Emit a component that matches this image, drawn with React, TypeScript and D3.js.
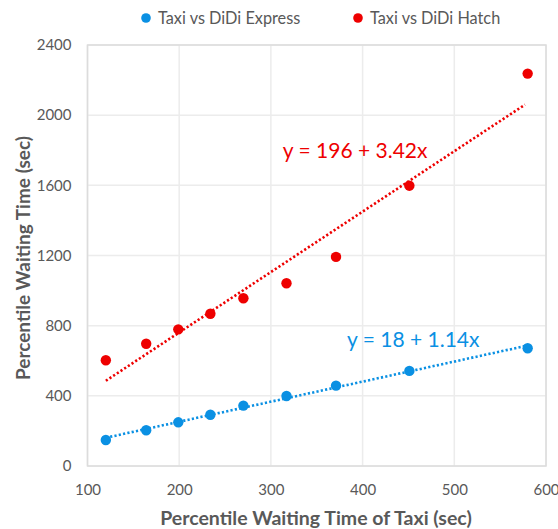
import React, { useEffect, useRef } from 'react';
import * as d3 from 'd3';

// Values
const taxiWait = [120, 164, 199, 234, 270, 317, 371, 451, 580];
const expressWait = [148, 204, 249, 292, 344, 399, 458, 542, 671];
const hatchWait = [603, 697, 779, 868, 956, 1042, 1192, 1598, 2237];
const xTicks = [100, 200, 300, 400, 500, 600];
const yTicks = [0, 400, 800, 1200, 1600, 2000, 2400];
const seriesNames = ['Taxi vs DiDi Express', 'Taxi vs DiDi Hatch'];
const equations = ['y = 18 + 1.14x', 'y = 196 + 3.42x'];
// where each equation label starts, in data units
const equationAt = [
  [383, 678],
  [313, 1756],
];

const BLUE = '#0a90e3';
const RED = '#ee0000';
const GREY = '#595959';
const FONT = 'Lato, "Open Sans", sans-serif';

// ordinary least squares fit
const fit = (xs: number[], ys: number[]) => {
  const mx = d3.mean(xs) as number;
  const my = d3.mean(ys) as number;
  let sxy = 0;
  let sxx = 0;
  xs.forEach((x, i) => {
    sxy += (x - mx) * (ys[i] - my);
    sxx += (x - mx) * (x - mx);
  });
  const slope = sxy / sxx;
  return { slope, intercept: my - slope * mx };
};

const App = () => {
  const ref = useRef<SVGSVGElement>(null);

  useEffect(() => {
    const svg = d3.select(ref.current);
    svg.selectAll('*').remove();

    const left = 87.5;
    const right = 546;
    const top = 45;
    const bottom = 466;

    const x = d3.scaleLinear().domain([100, 600]).range([left, right]);
    const y = d3.scaleLinear().domain([0, 2400]).range([bottom, top]);

    // Gridlines
    svg.append('g')
      .selectAll('line')
      .data(xTicks)
      .enter()
      .append('line')
      .attr('x1', d => x(d))
      .attr('x2', d => x(d))
      .attr('y1', top)
      .attr('y2', bottom)
      .attr('stroke', '#ececec')
      .attr('stroke-width', 1.5);

    svg.append('g')
      .selectAll('line')
      .data(yTicks)
      .enter()
      .append('line')
      .attr('x1', left)
      .attr('x2', right)
      .attr('y1', d => y(d))
      .attr('y2', d => y(d))
      .attr('stroke', '#ececec')
      .attr('stroke-width', 1.5);

    // Plot border
    svg.append('rect')
      .attr('x', left)
      .attr('y', top)
      .attr('width', right - left)
      .attr('height', bottom - top)
      .attr('fill', 'none')
      .attr('stroke', '#dcdcdc')
      .attr('stroke-width', 1.5);

    // Axes (ticks hidden, labels only)
    const xAxis = svg.append('g')
      .attr('transform', `translate(0, ${bottom})`)
      .call(d3.axisBottom(x).tickValues(xTicks).tickSize(0).tickPadding(18));
    xAxis.select('.domain').remove();
    xAxis.selectAll('text')
      .style('font-family', FONT)
      .style('font-size', '15px')
      .style('fill', GREY);

    const yAxis = svg.append('g')
      .attr('transform', `translate(${left}, 0)`)
      .call(d3.axisLeft(y).tickValues(yTicks).tickFormat(d3.format('d')).tickSize(0).tickPadding(16));
    yAxis.select('.domain').remove();
    yAxis.selectAll('text')
      .style('font-family', FONT)
      .style('font-size', '15px')
      .style('fill', GREY);

    // Axis titles
    svg.append('text')
      .attr('x', 316)
      .attr('y', 525)
      .attr('text-anchor', 'middle')
      .style('font-family', FONT)
      .style('font-weight', 'bold')
      .style('font-size', '19.5px')
      .style('fill', GREY)
      .text('Percentile Waiting Time of Taxi (sec)');

    svg.append('text')
      .attr('transform', 'translate(30, 258) rotate(-90)')
      .attr('text-anchor', 'middle')
      .style('font-family', FONT)
      .style('font-weight', 'bold')
      .style('font-size', '19px')
      .style('fill', GREY)
      .text('Percentile Waiting Time (sec)');

    const series = [
      { name: seriesNames[0], values: expressWait, color: BLUE },
      { name: seriesNames[1], values: hatchWait, color: RED },
    ];

    const line = d3.line<number[]>()
      .x(d => x(d[0]))
      .y(d => y(d[1]));

    const [xMin, xMax] = d3.extent(taxiWait) as [number, number];

    series.forEach((s, i) => {
      // Dotted trend line
      const { slope, intercept } = fit(taxiWait, s.values);
      svg.append('path')
        .datum([[xMin, intercept + slope * xMin], [xMax - 3, intercept + slope * (xMax - 3)]])
        .attr('fill', 'none')
        .attr('stroke', s.color)
        .attr('stroke-width', 2.6)
        .attr('stroke-dasharray', '2.2 2.2')
        .attr('d', line);

      // Points
      svg.append('g')
        .selectAll('circle')
        .data(s.values)
        .enter()
        .append('circle')
        .attr('cx', (d, j) => x(taxiWait[j]))
        .attr('cy', d => y(d))
        .attr('r', 5.2)
        .attr('fill', s.color);

      // Equation label
      svg.append('text')
        .attr('x', x(equationAt[i][0]))
        .attr('y', y(equationAt[i][1]))
        .style('font-family', FONT)
        .style('font-size', '21px')
        .style('fill', s.color)
        .text(equations[i]);
    });

    // Legend
    const legendX = [146, 358];
    series.forEach((s, i) => {
      svg.append('circle')
        .attr('cx', legendX[i])
        .attr('cy', 18)
        .attr('r', 4.8)
        .attr('fill', s.color);
      svg.append('text')
        .attr('x', legendX[i] + 12)
        .attr('y', 23.5)
        .style('font-family', FONT)
        .style('font-size', '16.3px')
        .style('fill', GREY)
        .text(s.name);
    });
  }, []);

  return (
    <svg
      ref={ref}
      width={558}
      height={529}
      style={{ position: 'absolute', left: 0, top: 0, background: '#fff' }}
    />
  );
};

export default App;
